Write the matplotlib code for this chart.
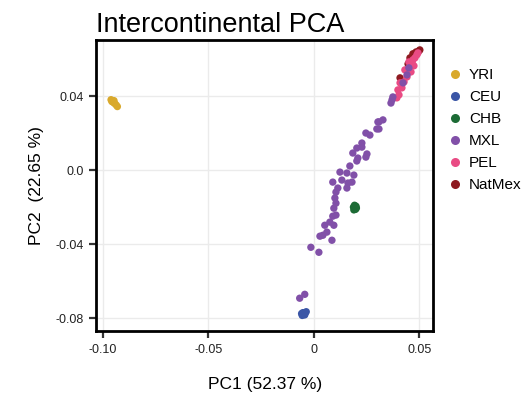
"""Intercontinental PCA scatter (PC1 vs PC2) by population."""

import matplotlib
matplotlib.use('Agg')
import matplotlib.pyplot as plt
from matplotlib.lines import Line2D

plt.rcParams['font.family'] = ['Liberation Sans', 'DejaVu Sans']

# Population samples (PC1, PC2)
yri_pc1 = [-0.0962, -0.0958, -0.0955, -0.0950, -0.0948, -0.0945, -0.0938, -0.0932]
yri_pc2 = [0.0380, 0.0370, 0.0372, 0.0365, 0.0375, 0.0360, 0.0352, 0.0343]

ceu_pc1 = [-0.0055, -0.0048, -0.0040, -0.0052, -0.0043, -0.0036, -0.0058]
ceu_pc2 = [-0.0785, -0.0778, -0.0770, -0.0770, -0.0782, -0.0765, -0.0775]

chb_pc1 = [0.0190, 0.0195, 0.0200, 0.0193, 0.0198, 0.0188, 0.0202]
chb_pc2 = [-0.0215, -0.0205, -0.0195, -0.0190, -0.0212, -0.0200, -0.0205]

mxl_pc1 = [-0.0067, -0.0043, -0.0014, 0.0024, 0.0086, 0.0029, 0.0043, 0.0062,
           0.0052, 0.0095, 0.0076, 0.0105, 0.0090, 0.0095, 0.0105, 0.0100,
           0.0105, 0.0114, 0.0157, 0.0090, 0.0133, 0.0162, 0.0181, 0.0124,
           0.0157, 0.0190, 0.0171, 0.0185, 0.0204, 0.0228, 0.0228, 0.0209,
           0.0204, 0.0252, 0.0247, 0.0247, 0.0266, 0.0304, 0.0299, 0.0309,
           0.0328, 0.0309, 0.0366, 0.0371, 0.0375, 0.0423, 0.0442, 0.0451]
mxl_pc2 = [-0.0692, -0.0671, -0.0417, -0.0444, -0.0379, -0.0357, -0.0352, -0.0335,
           -0.0298, -0.0298, -0.0281, -0.0243, -0.0249, -0.0206, -0.0179, -0.0151,
           -0.0119, -0.0097, -0.0097, -0.0065, -0.0054, -0.0070, -0.0065, -0.0011,
           -0.0016, -0.0027, 0.0022, 0.0092, 0.0119, 0.0146, 0.0124, 0.0065,
           0.0049, 0.0087, 0.0070, 0.0200, 0.0189, 0.0260, 0.0222, 0.0260,
           0.0271, 0.0222, 0.0362, 0.0379, 0.0395, 0.0471, 0.0514, 0.0552]

pel_pc1 = [0.0394, 0.0399, 0.0404, 0.0409, 0.0418, 0.0428, 0.0432, 0.0442,
           0.0447, 0.0451, 0.0456, 0.0461, 0.0466, 0.0470, 0.0475, 0.0480,
           0.0489, 0.0494]
pel_pc2 = [0.0390, 0.0433, 0.0406, 0.0471, 0.0444, 0.0476, 0.0541, 0.0503,
           0.0530, 0.0584, 0.0557, 0.0530, 0.0579, 0.0595, 0.0563, 0.0606,
           0.0622, 0.0633]

natmex_pc1 = [0.0409, 0.0447, 0.0456, 0.0470, 0.0480, 0.0485, 0.0489, 0.0499, 0.0503]
natmex_pc2 = [0.0498, 0.0573, 0.0606, 0.0628, 0.0617, 0.0638, 0.0633, 0.0644, 0.0649]

groups = [
    ('YRI', yri_pc1, yri_pc2, '#D9A92C'),
    ('CEU', ceu_pc1, ceu_pc2, '#3B56A6'),
    ('CHB', chb_pc1, chb_pc2, '#1C6B35'),
    ('MXL', mxl_pc1, mxl_pc2, '#8150A8'),
    ('PEL', pel_pc1, pel_pc2, '#E94B84'),
    ('NatMex', natmex_pc1, natmex_pc2, '#8E1A20'),
]
# drawing order (later = on top)
zorders = {'YRI': 3, 'CEU': 3, 'CHB': 3, 'NatMex': 3, 'PEL': 4, 'MXL': 5}

x_ticks = [-0.10, -0.05, 0, 0.05]
x_tick_labels = ['-0.10', '-0.05', '0', '0.05']
y_ticks = [-0.08, -0.04, 0.0, 0.04]
y_tick_labels = ['-0.08', '-0.04', '0.0', '0.04']

fig = plt.figure(figsize=(5.25, 3.99), dpi=100)
ax = fig.add_axes([0.183, 0.170, 0.642, 0.730])

for name, xs, ys, color in groups:
    ax.scatter(xs, ys, s=28, color=color, edgecolors='none', zorder=zorders[name])

ax.set_xlim(-0.1033, 0.0566)
ax.set_ylim(-0.087, 0.0703)
ax.set_xticks(x_ticks)
ax.set_xticklabels(x_tick_labels)
ax.set_yticks(y_ticks)
ax.set_yticklabels(y_tick_labels)
ax.grid(True, color='#EBEBEB', linewidth=1.0, zorder=0)
ax.set_axisbelow(True)
for spine in ax.spines.values():
    spine.set_linewidth(2.0)
    spine.set_color('black')
ax.tick_params(axis='both', length=5, width=1.6, color='#333333',
               labelsize=9, labelcolor='#222222', pad=4)

ax.set_xlabel('PC1 (52.37 %)', fontsize=12.5, labelpad=15)
ax.set_ylabel('PC2  (22.65 %)', fontsize=12.5, labelpad=8)
ax.set_title('Intercontinental PCA', fontsize=19.5, loc='left', pad=6)

handles = [Line2D([], [], marker='o', linestyle='none', markersize=6.5,
                  markerfacecolor=c, markeredgecolor='none', label=n)
           for n, _, _, c in groups]
ax.legend(handles=handles, loc='upper left', bbox_to_anchor=(1.02, 0.925),
          frameon=False, fontsize=11, handletextpad=0.3, labelspacing=0.53,
          borderaxespad=0, handlelength=1.2)

fig.savefig('out.png', dpi=100)
